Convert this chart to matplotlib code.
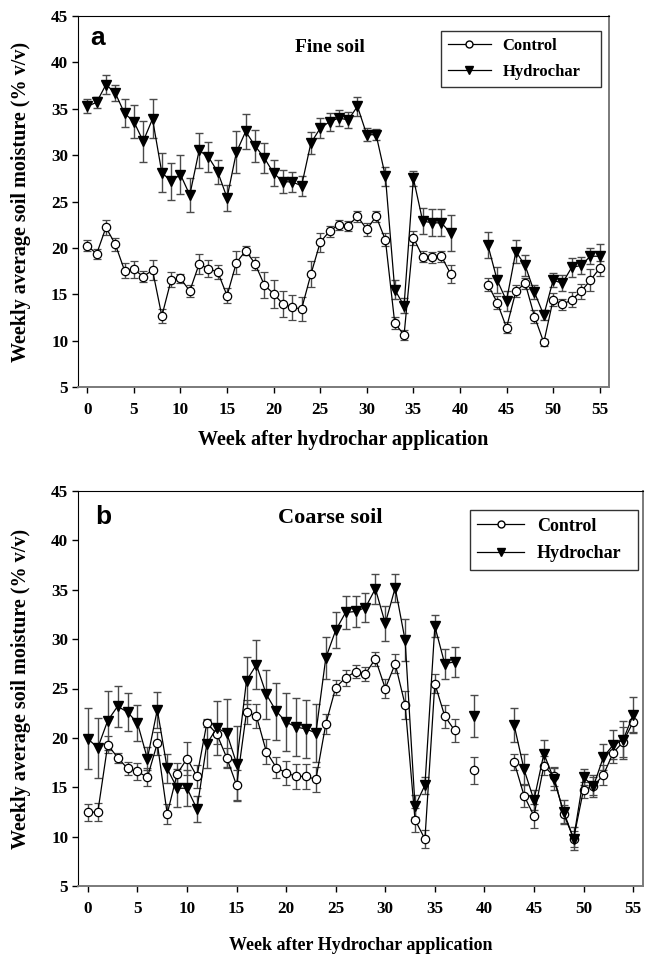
import numpy as np
import matplotlib.pyplot as plt
from matplotlib.lines import Line2D

nan = np.nan
weeks = np.arange(56)

# fine soil: weekly means and standard errors (weeks 40-42 not measured)
fine_control = [20.25, 19.35, 22.2, 20.4, 17.55, 17.7, 16.9, 17.6, 12.65, 16.55,
                16.7, 15.35, 18.25, 17.75, 17.4, 14.85, 18.4, 19.7, 18.3, 16.0,
                15.05, 13.95, 13.6, 13.4, 17.15, 20.6, 21.8, 22.5, 22.4, 23.4,
                22.0, 23.4, 20.85, 11.9, 10.6, 21.1, 19.05, 19.0, 19.1, 17.2,
                nan, nan, nan, 16.05, 14.1, 11.4, 15.3, 16.2, 12.6, 9.8,
                14.4, 13.9, 14.4, 15.3, 16.5, 17.8]
fine_control_se = [0.6, 0.5, 0.8, 0.7, 0.8, 0.9, 0.6, 1.1, 0.75, 0.8,
                   0.5, 0.6, 1.1, 0.9, 0.75, 0.8, 1.25, 0.5, 0.7, 1.4,
                   1.5, 1.45, 1.35, 1.3, 1.4, 1.05, 0.6, 0.55, 0.55, 0.6,
                   0.7, 0.6, 0.7, 0.7, 0.5, 0.75, 0.6, 0.6, 0.6, 0.97,
                   nan, nan, nan, 0.7, 0.7, 0.6, 0.65, 0.6, 0.75, 0.4,
                   0.7, 0.6, 0.8, 0.8, 1.2, 0.8]
fine_hydrochar = [35.25, 35.7, 37.6, 36.7, 34.5, 33.6, 31.5, 33.9, 28.1, 27.2,
                  27.9, 25.7, 30.5, 29.8, 28.2, 25.4, 30.3, 32.55, 31.0, 29.7,
                  28.05, 27.15, 27.1, 26.7, 31.3, 32.9, 33.6, 34.0, 33.8, 35.25,
                  32.2, 32.2, 27.7, 15.5, 13.75, 27.5, 22.9, 22.7, 22.7, 21.6,
                  nan, nan, nan, 20.3, 16.5, 14.3, 19.6, 18.1, 15.2, 12.75,
                  16.5, 16.2, 17.9, 18.1, 19.1, 19.1]
fine_hydrochar_se = [0.75, 0.6, 1.0, 0.9, 1.5, 1.8, 2.2, 2.1, 2.1, 2.0,
                     2.1, 1.85, 1.9, 1.6, 1.3, 1.4, 2.25, 1.9, 1.75, 1.6,
                     1.4, 1.2, 1.1, 1.1, 1.2, 1.1, 0.95, 0.85, 0.9, 1.0,
                     0.7, 0.6, 1.0, 1.05, 0.8, 0.8, 1.4, 1.45, 1.45, 1.9,
                     nan, nan, nan, 1.4, 1.4, 1.1, 1.2, 1.15, 0.75, 0.55,
                     0.75, 0.9, 1.0, 0.95, 0.85, 1.3]

# coarse soil (weeks 38 and 40-42 not measured)
coarse_control = [12.45, 12.5, 19.3, 18.0, 16.9, 16.6, 16.0, 19.45, 12.3, 16.35,
                  17.9, 16.1, 21.5, 20.4, 18.0, 15.2, 22.6, 22.2, 18.6, 17.0,
                  16.45, 16.1, 16.1, 15.8, 21.4, 25.1, 26.1, 26.7, 26.5, 28.0,
                  25.0, 27.5, 23.35, 11.7, 9.75, 25.5, 22.2, 20.75, nan, 16.7,
                  nan, nan, nan, 17.55, 14.15, 12.1, 17.2, 16.1, 12.3, 9.8,
                  14.75, 15.1, 16.25, 18.5, 19.6, 21.6]
coarse_control_se = [0.9, 0.9, 0.85, 0.5, 0.7, 0.9, 0.9, 1.15, 1.0, 1.1,
                     1.7, 1.2, 0.4, 1.0, 1.0, 1.5, 1.2, 1.2, 1.25, 1.1,
                     1.2, 1.25, 1.25, 1.3, 1.0, 0.75, 0.8, 0.65, 0.7, 0.7,
                     1.0, 0.95, 1.4, 1.2, 0.9, 1.0, 1.15, 1.15, nan, 1.35,
                     nan, nan, nan, 0.85, 1.15, 1.2, 1.0, 1.0, 0.9, 0.8,
                     0.8, 0.9, 1.0, 1.0, 1.5, 1.0]
coarse_hydrochar = [19.9, 19.0, 21.75, 23.2, 22.6, 21.5, 17.9, 22.85, 16.9, 14.9,
                    14.9, 12.8, 19.4, 21.0, 20.5, 17.4, 25.8, 27.4, 24.4, 22.7,
                    21.6, 21.1, 20.9, 20.5, 28.1, 30.9, 32.7, 32.8, 33.2, 35.1,
                    31.6, 35.2, 29.9, 13.1, 15.2, 31.3, 27.5, 27.7, nan, 22.2,
                    nan, nan, nan, 21.3, 16.8, 13.7, 18.4, 15.85, 12.5, 9.8,
                    16.0, 15.1, 18.05, 19.3, 19.8, 22.3]
coarse_hydrochar_se = [3.1, 3.05, 3.0, 2.1, 1.9, 1.8, 1.15, 1.8, 1.45, 1.9,
                       1.8, 1.3, 2.4, 2.7, 3.4, 3.8, 2.4, 2.5, 2.5, 2.9,
                       2.9, 2.95, 2.9, 2.9, 2.15, 1.8, 1.7, 1.55, 1.5, 1.5,
                       1.8, 1.4, 2.15, 1.1, 0.85, 1.1, 1.5, 1.5, nan, 2.1,
                       nan, nan, nan, 1.7, 1.55, 1.0, 1.4, 1.15, 1.2, 1.15,
                       0.8, 1.1, 1.3, 1.45, 1.9, 1.8]

plt.rcParams['font.family'] = 'Liberation Serif'
plt.rcParams['font.weight'] = 'bold'

W, H = 646, 961
fig = plt.figure(figsize=(W / 100, H / 100), dpi=100)


def panel(box, control, control_se, hydro, hydro_se, letter, title, xlabel,
          title_xy, letter_xy, legend_box, xlabel_y, title_size, legend_size,
          xlabel_size):
    l, t, r, b = box
    ax = fig.add_axes([l / W, 1 - b / H, (r - l) / W, (b - t) / H])
    err = dict(ecolor='#4a4a4a', elinewidth=1.0, capsize=3.2, capthick=1.0)
    ax.errorbar(weeks, control, yerr=control_se, color='black', lw=0.9,
                marker='o', ms=6, mfc='white', mec='black', mew=0.9, **err)
    ax.errorbar(weeks, hydro, yerr=hydro_se, color='black', lw=0.9,
                marker='v', ms=7, mfc='black', mec='black', **err)
    ax.set_xlim(-1, 56)
    ax.set_ylim(5, 45)
    ax.set_xticks(range(0, 56, 5))
    ax.set_yticks(range(5, 46, 5))
    ax.tick_params(direction='out', length=4, width=1, labelsize=12.3, pad=3)
    ax.tick_params(axis='x', pad=7)
    ax.spines['left'].set_color('black')
    ax.spines['top'].set_color('black')
    for s in ('right', 'bottom'):
        ax.spines[s].set_color('#7a7a7a')
        ax.spines[s].set_linewidth(1.4)

    # axis titles placed in figure pixels
    fig.text(21 / W, 1 - ((t + b) / 2) / H, 'Weekly average soil moisture (% v/v)',
             rotation=90, ha='center', va='center', fontsize=14.5,
             fontweight='bold')
    fig.text(((l + r) / 2) / W, 1 - xlabel_y / H, xlabel, ha='center',
             va='center', fontsize=xlabel_size, fontweight='bold')
    fig.text(letter_xy[0] / W, 1 - letter_xy[1] / H, letter, ha='center',
             va='center', fontsize=19, fontweight='bold', family='Liberation Sans')
    fig.text(title_xy[0] / W, 1 - title_xy[1] / H, title, ha='center',
             va='center', fontsize=title_size, fontweight='bold')

    handles = [Line2D([], [], color='black', lw=0.9, marker='o', ms=5,
                      mfc='white', mec='black'),
               Line2D([], [], color='black', lw=0.9, marker='v', ms=6,
                      mfc='black', mec='black')]
    lx0, ly0, lx1, ly1 = legend_box
    leg = ax.legend(handles, ['Control', 'Hydrochar'],
                    bbox_to_anchor=((lx0 - l) / (r - l), 1 - (ly1 - t) / (b - t),
                                    (lx1 - lx0) / (r - l), (ly1 - ly0) / (b - t)),
                    mode='expand', loc='center', fancybox=False, frameon=True,
                    edgecolor='black', fontsize=legend_size, handlelength=2.6,
                    borderaxespad=0, labelspacing=0.6, handletextpad=0.7)
    leg.get_frame().set_linewidth(1.0)
    for txt in leg.get_texts():
        txt.set_fontweight('bold')
    return ax


panel((78, 16, 609, 387), fine_control, fine_control_se, fine_hydrochar,
      fine_hydrochar_se, 'a', 'Fine soil', 'Week after hydrochar application',
      (330, 48), (98, 38), (441, 26, 601, 92), 440, 14, 12, 14.5)
panel((78, 491, 643, 886), coarse_control, coarse_control_se, coarse_hydrochar,
      coarse_hydrochar_se, 'b', 'Coarse soil', 'Week after Hydrochar application',
      (330, 518), (103, 517), (470, 503, 638, 577), 945, 16, 13, 13)

fig.savefig('out.png', dpi=100)
